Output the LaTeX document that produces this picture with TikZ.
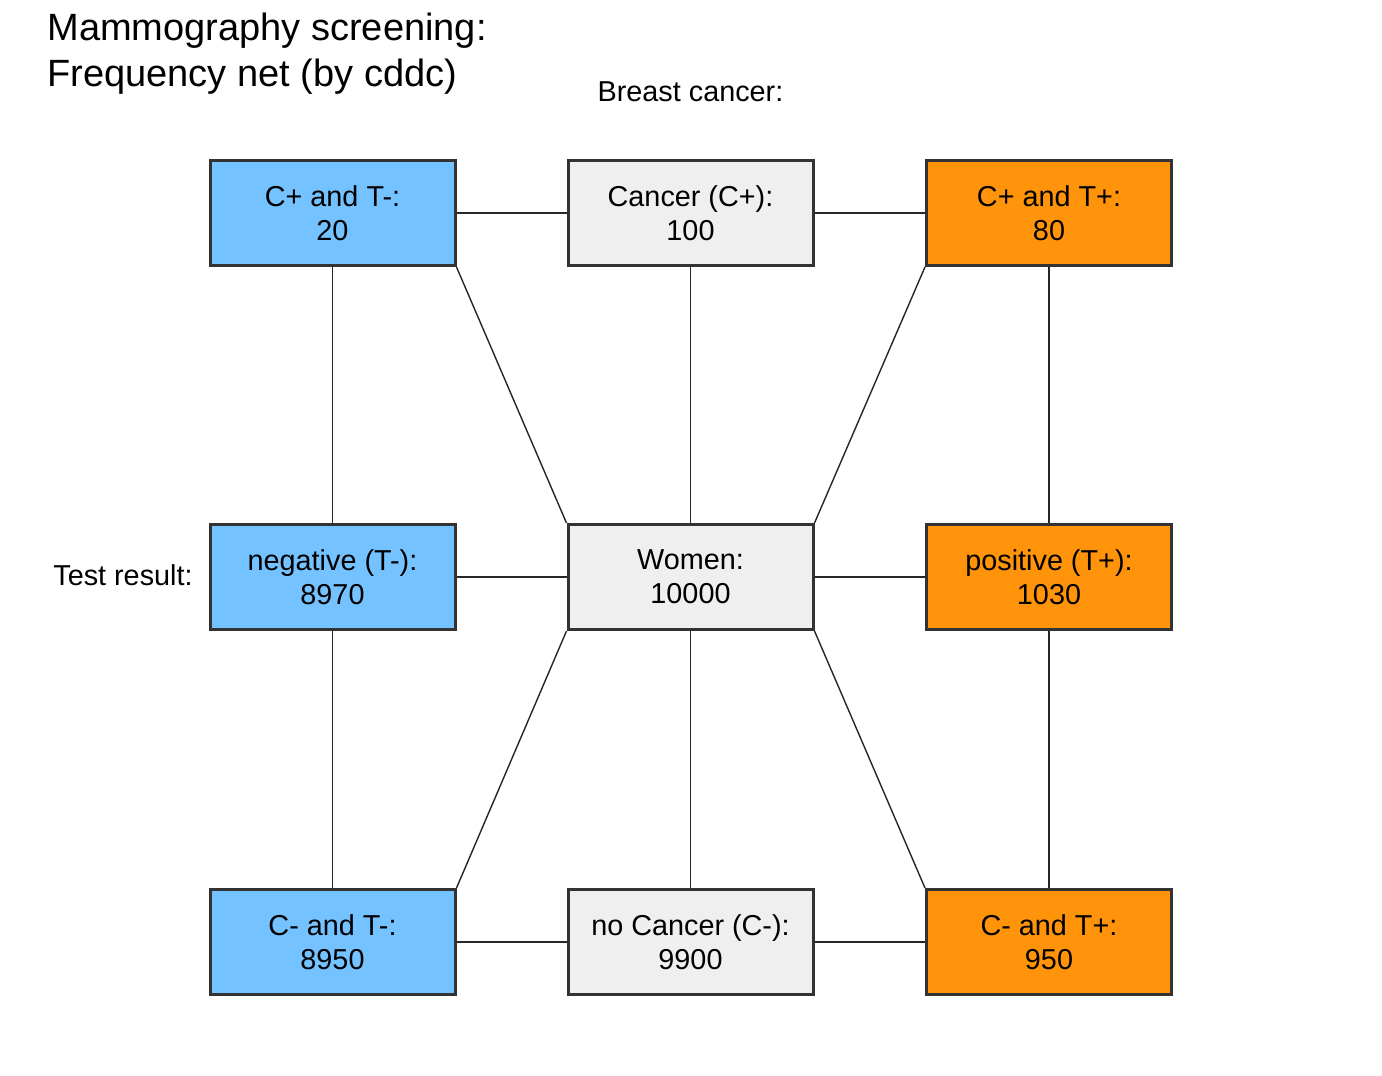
\documentclass[tikz,border=0pt]{standalone}
\usepackage{fontspec}
\setmainfont{Liberation Sans}
\definecolor{negblue}{HTML}{74C2FF}
\definecolor{posorange}{HTML}{FF9309}
\definecolor{boxgrey}{HTML}{EFEFEF}
\definecolor{edgegrey}{HTML}{333333}

\tikzset{
  freqbox/.style={draw=edgegrey,line width=1.5pt,fill=boxgrey,align=center,
    minimum width=122.5pt,minimum height=52.5pt,inner sep=0pt,
    font=\fontsize{14.4}{17}\selectfont},
  negbox/.style={freqbox,fill=negblue},
  posbox/.style={freqbox,fill=posorange},
  link/.style={draw=black!85,line width=0.7pt},
  titletext/.style={anchor=base west,inner sep=0pt,font=\fontsize{19}{23}\selectfont},
  sidetext/.style={inner sep=0pt,font=\fontsize{14.4}{17}\selectfont},
}

\begin{document}
\begin{tikzpicture}[x=0.5pt,y=-0.5pt]
      \useasboundingbox (0,0) rectangle (1382,1076);
      % titles
      \node[titletext] (title1) at (47,40) {Mammography screening:};
      \node[titletext] (title2) at (47,86) {Frequency net (by cddc)};
      \node[sidetext] (cancerlbl) at (690.5,92) {Breast cancer:};
      \node[sidetext,anchor=east] (testlbl) at (193,575) {Test result:};
      % boxes
      \node[negbox] (cpTm) at (332.5,213) {C+ and T-:\\20};
      \node[freqbox] (cancer) at (690.5,213) {Cancer (C+):\\100};
      \node[posbox] (cpTp) at (1049,213) {C+ and T+:\\80};
      \node[negbox] (neg) at (332.5,577) {negative (T-):\\8970};
      \node[freqbox] (women) at (690.5,577) {Women:\\10000};
      \node[posbox] (pos) at (1049,577) {positive (T+):\\1030};
      \node[negbox] (cmTm) at (332.5,942) {C- and T-:\\8950};
      \node[freqbox] (nocancer) at (690.5,942) {no Cancer (C-):\\9900};
      \node[posbox] (cmTp) at (1049,942) {C- and T+:\\950};
      % connectors
      \foreach \a/\b in {cpTm/cancer,cancer/cpTp,neg/women,women/pos,cmTm/nocancer,nocancer/cmTp,
                         cpTm/neg,neg/cmTm,cancer/women,women/nocancer,cpTp/pos,pos/cmTp} {%
        \draw[link] (\a) -- (\b);
      }
      \draw[link] (cpTm.south east) -- (women.north west);
      \draw[link] (cpTp.south west) -- (women.north east);
      \draw[link] (cmTm.north east) -- (women.south west);
      \draw[link] (cmTp.north west) -- (women.south east);
    \end{tikzpicture}
\end{document}
